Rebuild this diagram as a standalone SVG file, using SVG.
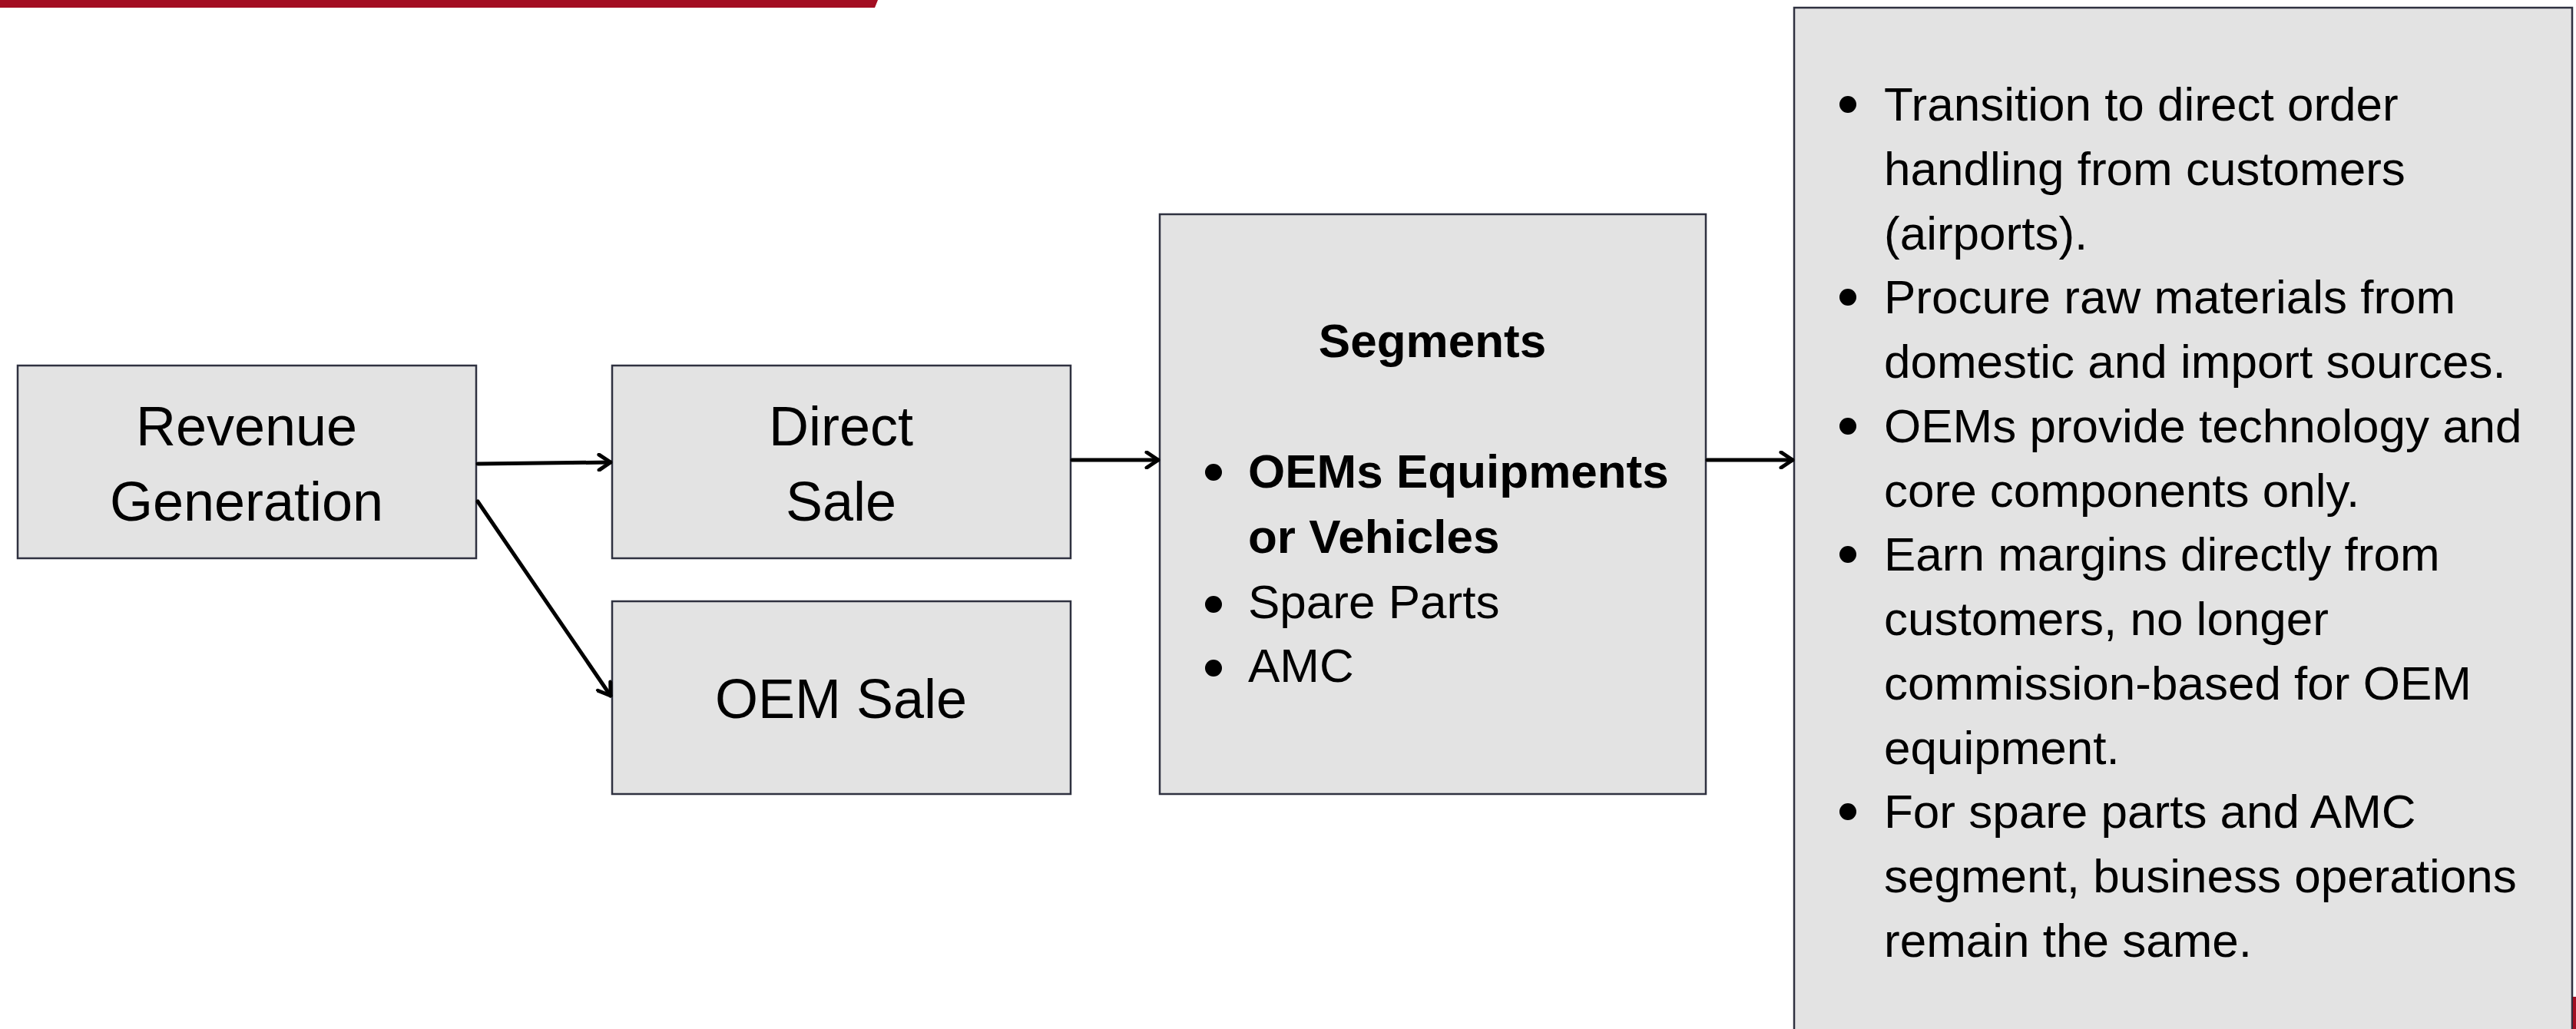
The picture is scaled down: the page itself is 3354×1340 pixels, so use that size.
<svg xmlns="http://www.w3.org/2000/svg" width="3354" height="1340" viewBox="0 0 3354 1340">
  <defs>
    <style>
      .box { fill: #e3e3e3; stroke: #2f3140; stroke-width: 2.5; }
      .t { font-family: "Liberation Sans", Arial, sans-serif; fill: #000; }
      .big { font-size: 72px; }
      .txt { font-size: 62px; }
      .b { font-weight: bold; }
      .conn { fill: none; stroke: #000; stroke-width: 5; stroke-linecap: round; }
      .dot { fill: #000; }
    </style>
    <marker id="arr" viewBox="0 0 20 24" markerWidth="20" markerHeight="24" refX="18" refY="12" orient="auto" markerUnits="userSpaceOnUse">
      <path d="M3,2 L18,12 L3,22" fill="none" stroke="#000" stroke-width="5" stroke-linecap="round" stroke-linejoin="round"/>
    </marker>
  </defs>
  <rect width="3354" height="1340" fill="#ffffff"/>
  <polygon points="0,0 1143,0 1139,10 0,10" fill="#a30e22"/>

  <g id="revenue">
    <rect class="box" x="23" y="476" width="597" height="251"/>
    <text class="t big" x="321" y="580" text-anchor="middle">Revenue</text>
    <text class="t big" x="321" y="678" text-anchor="middle">Generation</text>
  </g>

  <g id="direct-sale">
    <rect class="box" x="797" y="476" width="597" height="251"/>
    <text class="t big" x="1095" y="580" text-anchor="middle">Direct</text>
    <text class="t big" x="1095" y="678" text-anchor="middle">Sale</text>
  </g>

  <g id="oem-sale">
    <rect class="box" x="797" y="783" width="597" height="251"/>
    <text class="t big" x="1095" y="935" text-anchor="middle">OEM Sale</text>
  </g>

  <g id="segments">
    <rect class="box" x="1510" y="279" width="711" height="755"/>
    <text class="t txt b" x="1865" y="465" text-anchor="middle">Segments</text>
    <circle class="dot" cx="1580" cy="615" r="11"/>
    <text class="t txt b" x="1625" y="635">OEMs Equipments</text>
    <text class="t txt b" x="1625" y="720">or Vehicles</text>
    <circle class="dot" cx="1580" cy="787" r="11"/>
    <text class="t txt" x="1625" y="805">Spare Parts</text>
    <circle class="dot" cx="1580" cy="870" r="11"/>
    <text class="t txt" x="1625" y="888">AMC</text>
  </g>

  <g id="details">
    <rect class="box" x="2336" y="10" width="1013" height="1345"/>
    <circle class="dot" cx="2406" cy="136" r="11"/>
    <text class="t txt" x="2453" y="157">Transition to direct order</text>
    <text class="t txt" x="2453" y="241">handling from customers</text>
    <text class="t txt" x="2453" y="325">(airports).</text>
    <circle class="dot" cx="2406" cy="387" r="11"/>
    <text class="t txt" x="2453" y="408">Procure raw materials from</text>
    <text class="t txt" x="2453" y="492">domestic and import sources.</text>
    <circle class="dot" cx="2406" cy="555" r="11"/>
    <text class="t txt" x="2453" y="576">OEMs provide technology and</text>
    <text class="t txt" x="2453" y="660">core components only.</text>
    <circle class="dot" cx="2406" cy="722" r="11"/>
    <text class="t txt" x="2453" y="743">Earn margins directly from</text>
    <text class="t txt" x="2453" y="827">customers, no longer</text>
    <text class="t txt" x="2453" y="911">commission-based for OEM</text>
    <text class="t txt" x="2453" y="995">equipment.</text>
    <circle class="dot" cx="2406" cy="1057" r="11"/>
    <text class="t txt" x="2453" y="1078">For spare parts and AMC</text>
    <text class="t txt" x="2453" y="1162">segment, business operations</text>
    <text class="t txt" x="2453" y="1246">remain the same.</text>
  </g>

  <rect x="3350" y="1298" width="4" height="42" fill="#a30e22"/>

  <g id="connectors">
    <line class="conn" x1="622" y1="604" x2="795" y2="602" marker-end="url(#arr)"/>
    <line class="conn" x1="622" y1="653" x2="795" y2="906" marker-end="url(#arr)"/>
    <line class="conn" x1="1396" y1="599" x2="1508" y2="599" marker-end="url(#arr)"/>
    <line class="conn" x1="2223" y1="599" x2="2334" y2="599" marker-end="url(#arr)"/>
  </g>
</svg>
